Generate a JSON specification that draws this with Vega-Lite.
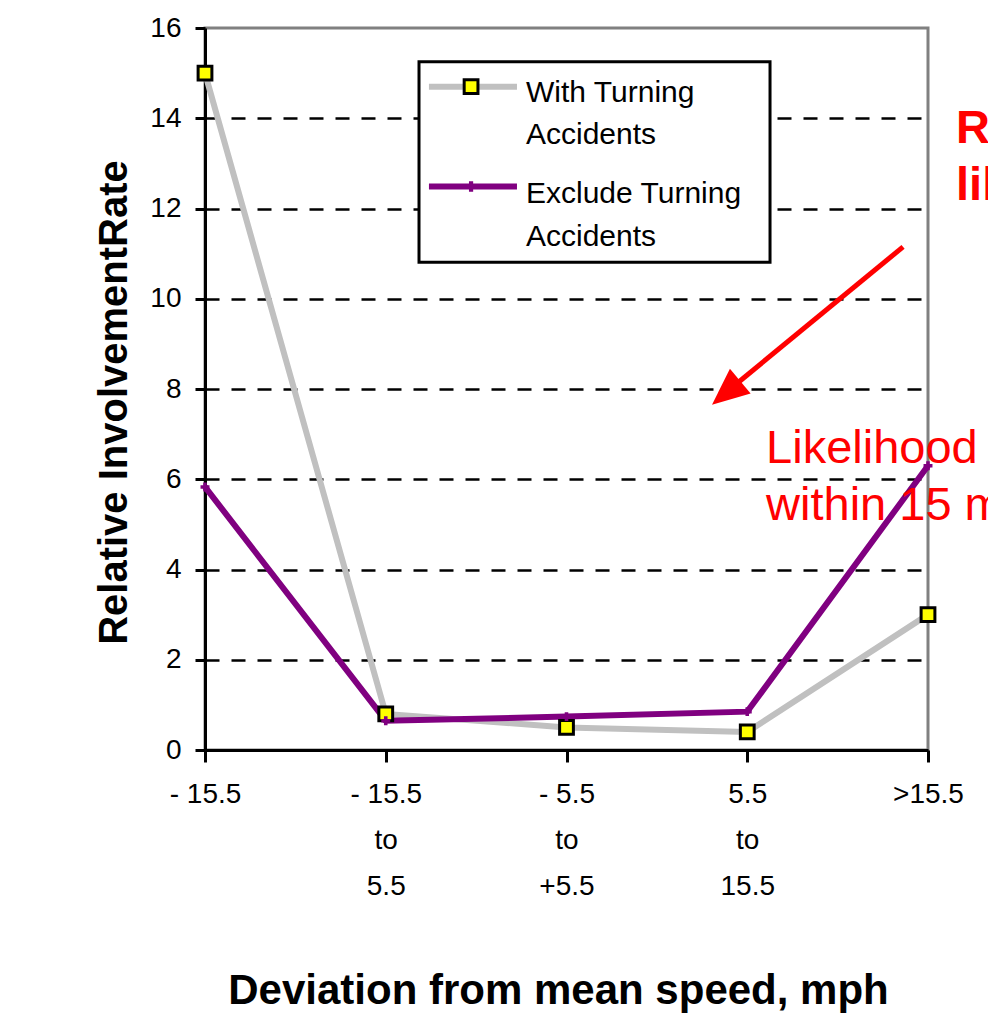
{
  "$schema": "https://vega.github.io/schema/vega-lite/v6.json",
  "width": 723,
  "height": 722,
  "autosize": {"type": "none"},
  "padding": {"left": 205, "top": 28, "right": 60, "bottom": 276},
  "background": "white",
  "config": {
    "view": {"stroke": "#808080", "strokeWidth": 3},
    "font": "Liberation Sans"
  },
  "datasets": {
    "main": [
      {"bin": "- 15.5", "x": 0, "series": "With Turning Accidents", "y": 15.0},
      {"bin": "- 15.5 to 5.5", "x": 1, "series": "With Turning Accidents", "y": 0.8},
      {"bin": "- 5.5 to +5.5", "x": 2, "series": "With Turning Accidents", "y": 0.5},
      {"bin": "5.5 to 15.5", "x": 3, "series": "With Turning Accidents", "y": 0.4},
      {"bin": ">15.5", "x": 4, "series": "With Turning Accidents", "y": 3.0},
      {"bin": "- 15.5", "x": 0, "series": "Exclude Turning Accidents", "y": 5.83},
      {"bin": "- 15.5 to 5.5", "x": 1, "series": "Exclude Turning Accidents", "y": 0.65},
      {"bin": "- 5.5 to +5.5", "x": 2, "series": "Exclude Turning Accidents", "y": 0.74},
      {"bin": "5.5 to 15.5", "x": 3, "series": "Exclude Turning Accidents", "y": 0.85},
      {"bin": ">15.5", "x": 4, "series": "Exclude Turning Accidents", "y": 6.3}
    ],
    "legendbox": [{"x": 1.184, "x2": 3.126, "y": 15.25, "y2": 10.81}],
    "legendlines": [
      {"x": 1.239, "x2": 1.726, "y": 14.70, "series": "With Turning Accidents"},
      {"x": 1.239, "x2": 1.726, "y": 12.49, "series": "Exclude Turning Accidents"}
    ],
    "legendmarks": [
      {"x": 1.472, "y": 14.70, "series": "With Turning Accidents"},
      {"x": 1.472, "y": 12.49, "series": "Exclude Turning Accidents"}
    ],
    "legendtext": [
      {"x": 1.776, "y": 14.36, "text": "With Turning"},
      {"x": 1.776, "y": 13.43, "text": "Accidents"},
      {"x": 1.776, "y": 12.13, "text": "Exclude Turning"},
      {"x": 1.776, "y": 11.17, "text": "Accidents"}
    ],
    "arrow": [
      {"x": 3.862, "y": 11.15},
      {"x": 2.86, "y": 7.85}
    ],
    "arrowhead": [{"x": 2.805, "y": 7.65}],
    "boldnotes": [
      {"x": 4.155, "y": 13.45, "text": "R"},
      {"x": 4.155, "y": 12.19, "text": "lil"}
    ],
    "notes": [
      {"x": 3.104, "y": 6.36, "text": "Likelihood"},
      {"x": 3.104, "y": 5.10, "text": "within 15 m"}
    ]
  },
  "encoding": {
    "x": {
      "field": "x",
      "type": "quantitative",
      "scale": {"domain": [0, 4], "nice": false, "zero": false},
      "axis": {
        "values": [0, 1, 2, 3, 4],
        "labelExpr": "datum.value == 0 ? '- 15.5' : datum.value == 1 ? ['- 15.5','to','5.5'] : datum.value == 2 ? ['- 5.5','to','+5.5'] : datum.value == 3 ? ['5.5','to','15.5'] : '>15.5'",
        "grid": false,
        "domainColor": "black",
        "domainWidth": 3,
        "tickColor": "black",
        "tickWidth": 3,
        "tickSize": 12,
        "labelFontSize": 28,
        "labelColor": "black",
        "labelPadding": 18,
        "labelLineHeight": 46,
        "labelFlush": false,
        "labelOverlap": false,
        "title": "Deviation from mean speed, mph",
        "titleFontSize": 42,
        "titleFontWeight": "bold",
        "titleColor": "black",
        "titleX": 353,
        "titleY": 240,
        "titleAlign": "center",
        "titleBaseline": "middle"
      }
    },
    "y": {
      "field": "y",
      "type": "quantitative",
      "scale": {"domain": [0, 16], "nice": false},
      "axis": {
        "values": [0, 2, 4, 6, 8, 10, 12, 14, 16],
        "grid": true,
        "gridColor": "black",
        "gridDash": [14, 12],
        "gridWidth": 2.5,
        "gridOpacity": {"condition": {"test": "datum.value == 0 || datum.value == 16", "value": 0}, "value": 1},
        "domainColor": "black",
        "domainWidth": 3,
        "tickColor": "black",
        "tickWidth": 3,
        "tickSize": 10,
        "labelFontSize": 28,
        "labelColor": "black",
        "labelPadding": 14,
        "title": "Relative InvolvementRate",
        "titleFontSize": 40,
        "titleFontWeight": "bold",
        "titleColor": "black",
        "titleX": -91,
        "titleY": 374,
        "titleAngle": 270,
        "titleAlign": "center",
        "titleBaseline": "middle"
      }
    }
  },
  "layer": [
    {
      "data": {"name": "main"},
      "transform": [{"filter": "datum.series == 'With Turning Accidents'"}],
      "mark": {"type": "line", "color": "#c0c0c0", "strokeWidth": 6}
    },
    {
      "data": {"name": "main"},
      "transform": [{"filter": "datum.series == 'Exclude Turning Accidents'"}],
      "mark": {"type": "line", "color": "#800080", "strokeWidth": 6}
    },
    {
      "data": {"name": "main"},
      "transform": [{"filter": "datum.series == 'With Turning Accidents'"}],
      "mark": {"type": "point", "shape": "square", "filled": true, "fill": "#ffff00", "stroke": "black", "strokeWidth": 3, "size": 190, "opacity": 1}
    },
    {
      "data": {"name": "main"},
      "transform": [{"filter": "datum.series == 'Exclude Turning Accidents'"}],
      "mark": {"type": "point", "shape": "cross", "filled": true, "color": "#800080", "size": 80, "opacity": 1}
    },
    {
      "data": {"name": "legendbox"},
      "mark": {"type": "rect", "fill": "white", "stroke": "black", "strokeWidth": 3},
      "encoding": {"x2": {"field": "x2"}, "y2": {"field": "y2"}}
    },
    {
      "data": {"name": "legendlines"},
      "mark": {"type": "rule", "strokeWidth": 6},
      "encoding": {
        "x2": {"field": "x2"},
        "color": {"field": "series", "type": "nominal", "scale": {"domain": ["With Turning Accidents", "Exclude Turning Accidents"], "range": ["#c0c0c0", "#800080"]}, "legend": null}
      }
    },
    {
      "data": {"name": "legendmarks"},
      "transform": [{"filter": "datum.series == 'With Turning Accidents'"}],
      "mark": {"type": "point", "shape": "square", "filled": true, "fill": "#ffff00", "stroke": "black", "strokeWidth": 3, "size": 190, "opacity": 1}
    },
    {
      "data": {"name": "legendmarks"},
      "transform": [{"filter": "datum.series == 'Exclude Turning Accidents'"}],
      "mark": {"type": "point", "shape": "cross", "filled": true, "color": "#800080", "size": 110, "opacity": 1}
    },
    {
      "data": {"name": "legendtext"},
      "mark": {"type": "text", "align": "left", "baseline": "alphabetic", "fontSize": 30, "color": "black"},
      "encoding": {"text": {"field": "text"}}
    },
    {
      "data": {"name": "arrow"},
      "mark": {"type": "line", "color": "#ff0000", "strokeWidth": 5},
      "encoding": {}
    },
    {
      "data": {"name": "arrowhead"},
      "mark": {"type": "point", "shape": "M0,0L0.48,1.1L-0.48,1.1Z", "filled": true, "color": "#ff0000", "size": 4500, "angle": 230, "opacity": 1, "strokeWidth": 0}
    },
    {
      "data": {"name": "boldnotes"},
      "mark": {"type": "text", "align": "left", "baseline": "alphabetic", "fontSize": 47, "fontWeight": "bold", "color": "#ff0000"},
      "encoding": {"text": {"field": "text"}}
    },
    {
      "data": {"name": "notes"},
      "mark": {"type": "text", "align": "left", "baseline": "alphabetic", "fontSize": 47, "color": "#ff0000"},
      "encoding": {"text": {"field": "text"}}
    }
  ]
}
